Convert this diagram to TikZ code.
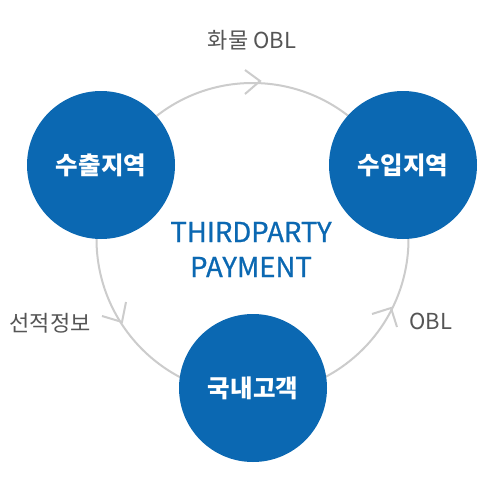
\documentclass[tikz,border=0pt]{standalone}
\usepackage{fontspec}
\setmainfont{Noto Sans CJK KR}
\newfontfamily\titlefont[FakeBold=0.8]{Noto Sans CJK KR}
\definecolor{blu}{HTML}{0B68B2}
\definecolor{ringc}{HTML}{CCCCCC}
\definecolor{lbl}{HTML}{555555}
\tikzset{
  hub/.style={circle,fill=blu,minimum size=148pt,inner sep=0pt,text=white,
    font=\bfseries\fontsize{24.5}{28}\selectfont},
  lab/.style={text=lbl,inner sep=0pt,font=\fontsize{22}{24}\selectfont},
  chev/.style={draw=ringc,line width=2pt},
  title/.style={text=blu,align=center,inner sep=0pt,font=\titlefont\fontsize{27.5}{35}\selectfont}
}
\begin{document}
\begin{tikzpicture}[x=1pt,y=-1pt]
\useasboundingbox[fill=white] (0,0) rectangle (499,488);
\draw[chev] (252.5,239) circle (156pt);
% chevrons
\draw[chev] (245,70) -- (260,81) -- (245,94);
\draw[chev] (126,302) -- (122,322) -- (102,316);
\draw[chev] (372,314) -- (391,308) -- (397,327);
% hubs
\node[hub] (exp) at (101,165) {수출지역};
\node[hub] (imp) at (403,165) {수입지역};
\node[hub] (cus) at (253,388) {국내고객};
% labels
\node[lab] (l1) at (252,40) {화물 OBL};
\node[lab] (l2) at (50,323) {선적정보};
\node[lab] (l3) at (431,321) {OBL};
\node[title] (t) at (251,249.5) {THIRDPARTY\\PAYMENT};
\end{tikzpicture}
\end{document}
